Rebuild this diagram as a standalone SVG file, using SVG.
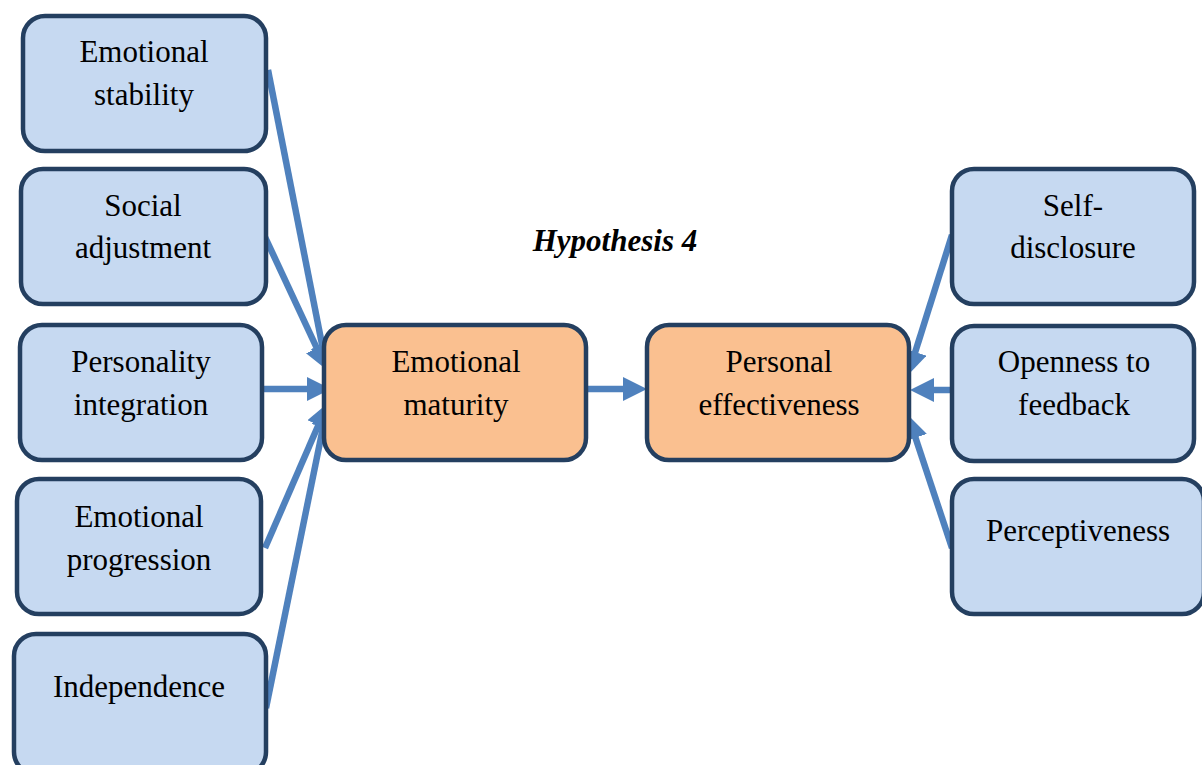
<svg xmlns="http://www.w3.org/2000/svg" width="1202" height="765" viewBox="0 0 1202 765">
  <style>
    .box { stroke: #243f60; stroke-width: 4.5; }
    .blue { fill: #c6d9f1; }
    .orange { fill: #fac090; }
    .lbl { font-family: "Liberation Serif", "Times New Roman", serif; font-size: 31px; fill: #000; text-anchor: middle; }
    .title { font-family: "Liberation Serif", "Times New Roman", serif; font-size: 31px; font-weight: bold; font-style: italic; fill: #000; text-anchor: middle; }
    .conn { stroke: #4f81bd; stroke-width: 6.5; fill: none; marker-end: url(#head); }
  </style>
  <defs>
    <!-- arrowhead: tip sits 22px beyond the end of each line -->
    <marker id="head" markerUnits="userSpaceOnUse" markerWidth="26" markerHeight="26" refX="2" refY="12" orient="auto">
      <path d="M0,0 L24,12 L0,24 Z" fill="#4f81bd"/>
    </marker>
  </defs>
  <rect width="1202" height="765" fill="#ffffff"/>

  <g id="connectors">
    <line class="conn" x1="268" y1="70" x2="322.8" y2="348.4"/>
    <line class="conn" x1="265" y1="237" x2="317.7" y2="350"/>
    <line class="conn" x1="262" y1="389" x2="309" y2="389"/>
    <line class="conn" x1="265" y1="548" x2="319.2" y2="423.2"/>
    <line class="conn" x1="266" y1="708" x2="323.6" y2="424.6"/>
    <line class="conn" x1="588" y1="389" x2="625" y2="389"/>
    <line class="conn" x1="952" y1="235" x2="914.6" y2="354"/>
    <line class="conn" x1="952" y1="390" x2="932" y2="390"/>
    <line class="conn" x1="952" y1="548" x2="914.9" y2="435.9"/>
  </g>

  <g id="emotional-stability">
    <rect class="box blue" x="23" y="16" width="243" height="135" rx="22"/>
    <text class="lbl" x="144" y="62">Emotional</text>
    <text class="lbl" x="144" y="105">stability</text>
  </g>
  <g id="social-adjustment">
    <rect class="box blue" x="21" y="169" width="245" height="135" rx="22"/>
    <text class="lbl" x="143" y="216">Social</text>
    <text class="lbl" x="143" y="258">adjustment</text>
  </g>
  <g id="personality-integration">
    <rect class="box blue" x="20" y="325" width="242" height="135" rx="22"/>
    <text class="lbl" x="141" y="372">Personality</text>
    <text class="lbl" x="141" y="415">integration</text>
  </g>
  <g id="emotional-progression">
    <rect class="box blue" x="17" y="479" width="244" height="135" rx="22"/>
    <text class="lbl" x="139" y="527">Emotional</text>
    <text class="lbl" x="139" y="570">progression</text>
  </g>
  <g id="independence">
    <rect class="box blue" x="14" y="634" width="252" height="140" rx="22"/>
    <text class="lbl" x="139" y="697">Independence</text>
  </g>

  <g id="emotional-maturity">
    <rect class="box orange" x="324" y="325" width="262" height="135" rx="22"/>
    <text class="lbl" x="456" y="372">Emotional</text>
    <text class="lbl" x="456" y="415">maturity</text>
  </g>
  <g id="personal-effectiveness">
    <rect class="box orange" x="647" y="325" width="262" height="135" rx="22"/>
    <text class="lbl" x="779" y="372">Personal</text>
    <text class="lbl" x="779" y="415">effectiveness</text>
  </g>

  <g id="self-disclosure">
    <rect class="box blue" x="952" y="169" width="242" height="135" rx="22"/>
    <text class="lbl" x="1073" y="216">Self-</text>
    <text class="lbl" x="1073" y="258">disclosure</text>
  </g>
  <g id="openness-to-feedback">
    <rect class="box blue" x="952" y="326" width="242" height="135" rx="22"/>
    <text class="lbl" x="1074" y="372">Openness to</text>
    <text class="lbl" x="1074" y="415">feedback</text>
  </g>
  <g id="perceptiveness">
    <rect class="box blue" x="952" y="479" width="252" height="135" rx="22"/>
    <text class="lbl" x="1078" y="541">Perceptiveness</text>
  </g>

  <g id="hypothesis-label">
    <text class="title" x="615" y="251">Hypothesis 4</text>
  </g>
</svg>
